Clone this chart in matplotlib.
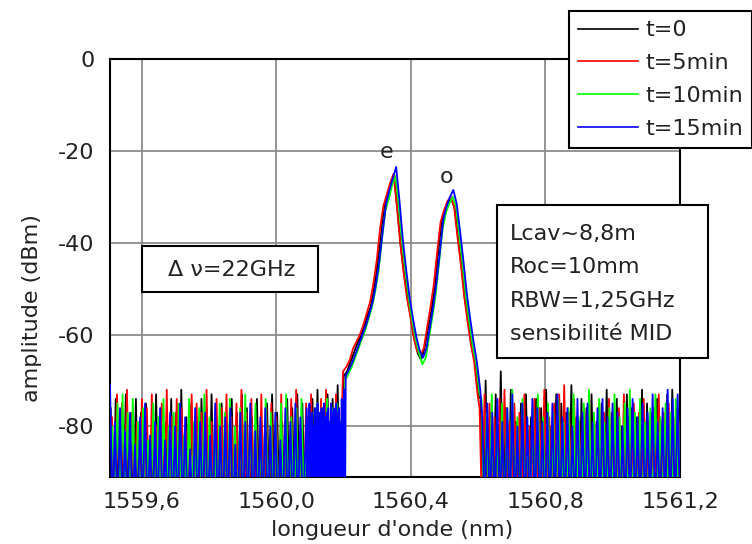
import numpy as np
import matplotlib
matplotlib.use("Agg")
import matplotlib.pyplot as plt
from matplotlib.patches import Rectangle
from matplotlib.lines import Line2D

# Spectres OSA : bruit (sommets des pics de bruit) + zone des deux pics (e, o)
labels = ["t=0", "t=5min", "t=10min", "t=15min"]
couleurs = ["#000000", "#ff0000", "#00ff00", "#0000ff"]

pas_bruit = [0.0150, 0.0148, 0.0152, 0.0149]
pas_pic = 0.01
plancher = -100

# debut (nm) de chaque zone, par trace
x_bruit_g = [1559.507, 1559.511, 1559.512, 1559.505]
x_pic = [1560.200, 1560.198, 1560.204, 1560.206]
x_bruit_d = [1560.607, 1560.604, 1560.610, 1560.612]

bruit_g_t0 = [-76, -74, -78, -73, -80, -74, -77, -75, -82, -73, -76, -79, -74, -77, -72, -78,
              -75, -80, -74, -76, -73, -79, -75, -81, -74, -77, -73, -76, -78, -74, -80, -75,
              -73, -77, -79, -74, -76, -73, -75, -78, -74, -72, -76, -73, -74, -71]
bruit_g_t5 = [-78, -73, -75, -72, -77, -79, -74, -76, -73, -80, -75, -72, -78, -74, -76, -81,
              -73, -75, -77, -72, -79, -74, -76, -73, -78, -75, -72, -77, -74, -80, -73, -76,
              -75, -78, -73, -77, -74, -72, -79, -75, -73, -76, -74, -72, -75, -73]
bruit_g_t10 = [-80, -75, -73, -77, -74, -79, -76, -83, -75, -78, -74, -80, -77, -75, -82, -74,
               -79, -76, -73, -78, -81, -75, -77, -74, -80, -76, -73, -78, -75, -82, -74, -77,
               -79, -75, -73, -78, -76, -74, -80, -77, -75, -79, -74, -76, -75, -77]
bruit_g_t15 = [-71, -79, -76, -81, -77, -84, -78, -75, -82, -79, -76, -83, -77, -80, -75, -78,
               -85, -76, -79, -77, -82, -75, -80, -78, -76, -84, -77, -79, -75, -81, -78, -76,
               -80, -77, -83, -76, -79, -75, -78]
# zone dense de la trace bleue juste avant le pic
x_dense_t15 = 1560.090
pas_dense = 0.004
bruit_dense_t15 = [-76, -79, -75, -78, -77, -80, -76, -78, -75, -79, -77, -76, -80, -75, -78,
                   -77, -76, -79, -75, -77, -76, -78, -75, -77, -76, -79, -74, -76, -72]

pic_t0 = [-69, -68, -66, -64, -62, -60.5, -58.5, -56, -54, -50, -45, -39, -32, -30, -27, -25.5,
          -33, -41, -47, -52, -56.5, -61, -64, -65.5, -63, -59, -55, -50, -43, -36, -33, -31.5,
          -30.5, -32.5, -39, -45, -52, -57, -62.5, -66, -73]
pic_t5 = [-68, -67, -65.5, -63, -61.5, -60, -58, -55.5, -53, -49, -44, -37, -32, -29.5, -27, -25,
          -32, -40, -46.5, -52, -56, -60.5, -63.5, -64.5, -63, -58.5, -54, -49, -42, -35.5, -33,
          -31, -30, -32, -38.5, -44.5, -51.5, -57, -62, -66, -73]
pic_t10 = [-70, -68.5, -67, -65, -63, -61, -59, -56.5, -54, -50.5, -46, -39, -33, -30.5, -27.5,
           -25.5, -32, -40, -46.5, -52.5, -57, -61, -64, -66.5, -65, -60.5, -56, -51, -44, -37,
           -33.5, -31.5, -30, -32, -38.5, -45, -52, -57.5, -62.5, -66.5, -73]
pic_t15 = [-69, -67.5, -66, -64, -62, -60, -58, -55.5, -53, -49, -44, -37.5, -31.5, -28.5, -26,
           -23.5, -31, -39.5, -46, -52, -56.5, -60.5, -63.5, -65, -63, -58.5, -54, -48.5, -42,
           -35, -32, -30, -28.5, -31.5, -37.5, -44, -51, -56.5, -61.5, -66, -72]

bruit_d_t0 = [-74, -70, -77, -73, -68, -76, -72, -79, -75, -73, -78, -74, -76, -72, -80, -73,
              -75, -77, -71, -78, -74, -76, -73, -79, -75, -72, -77, -74, -80, -73, -76, -78,
              -72, -75, -77, -74, -79, -73, -72, -76, -78]
bruit_d_t5 = [-76, -73, -75, -78, -74, -72, -79, -75, -77, -73, -80, -74, -76, -72, -78, -75,
              -73, -71, -77, -74, -79, -76, -73, -78, -75, -77, -74, -80, -76, -73, -78, -75,
              -77, -74, -79, -76, -73, -77, -75, -78, -79]
bruit_d_t10 = [-74, -77, -73, -79, -75, -76, -72, -78, -74, -80, -76, -73, -78, -75, -77, -74,
               -79, -76, -73, -78, -75, -72, -77, -74, -79, -76, -73, -78, -75, -72, -77, -74,
               -79, -76, -73, -78, -75, -77, -74, -76, -80]
bruit_d_t15 = [-78, -75, -77, -74, -79, -76, -73, -80, -75, -78, -74, -76, -79, -77, -75, -73,
               -78, -76, -80, -74, -77, -75, -79, -76, -74, -78, -75, -77, -80, -76, -74, -78,
               -75, -77, -73, -79, -76, -72, -74, -73, -77]

xticks = [1559.6, 1560.0, 1560.4, 1560.8, 1561.2]
xticklabels = ["1559,6", "1560,0", "1560,4", "1560,8", "1561,2"]
yticks = [0, -20, -40, -60, -80]
yticklabels = ["0", "-20", "-40", "-60", "-80"]
texte_params = ["Lcav~8,8m", "Roc=10mm", "RBW=1,25GHz", "sensibilité MID"]


def bruit(x0, pas, hauts):
    # chaque sommet de bruit retombe sous le plancher d'affichage
    x = x0 + pas * np.arange(len(hauts))
    xs = np.column_stack([x, x + pas / 2]).ravel()
    ys = np.column_stack([hauts, np.full(len(hauts), plancher)]).ravel()
    return xs, ys


W, H = 752, 544
fig = plt.figure(figsize=(W / 100, H / 100), dpi=100)
ax = fig.add_axes([110 / W, 1 - 477 / H, 570 / W, 418 / H])

def fx(px):
    return px / W

def fy(py):
    return 1 - py / H

traces = [
    (bruit_g_t0, None, pic_t0, bruit_d_t0),
    (bruit_g_t5, None, pic_t5, bruit_d_t5),
    (bruit_g_t10, None, pic_t10, bruit_d_t10),
    (bruit_g_t15, bruit_dense_t15, pic_t15, bruit_d_t15),
]

for i, (bg, dense, pic, bd) in enumerate(traces):
    xs, ys = [], []
    a, b = bruit(x_bruit_g[i], pas_bruit[i], bg)
    xs.append(a); ys.append(b)
    if dense is not None:
        a, b = bruit(x_dense_t15, pas_dense, dense)
        xs.append(a); ys.append(b)
    xs.append(x_pic[i] + pas_pic * np.arange(len(pic)))
    ys.append(np.array(pic))
    a, b = bruit(x_bruit_d[i], pas_bruit[i], bd)
    xs.append(a); ys.append(b)
    ax.plot(np.concatenate(xs), np.concatenate(ys), color=couleurs[i], lw=1.3, zorder=3)

ax.set_xlim(1559.505, 1561.2)
ax.set_ylim(-91, 0)
ax.set_xticks(xticks)
ax.set_xticklabels(xticklabels)
ax.set_yticks(yticks)
ax.set_yticklabels(yticklabels)
ax.tick_params(length=0, pad=11, labelsize=16, colors="#222222")
ax.grid(True, color="#8c8c8c", lw=1.3)
ax.set_axisbelow(True)
for s in ax.spines.values():
    s.set_linewidth(1.5)
    s.set_color("black")

ax.text(1560.326, -20.2, "e", fontsize=16, ha="center", va="center", color="#222222")
ax.text(1560.507, -25.6, "o", fontsize=16, ha="center", va="center", color="#222222")

fig.text(fx(392), fy(530), "longueur d'onde (nm)", fontsize=16, ha="center", va="center",
         color="#222222")
fig.text(fx(32), fy(308), "amplitude (dBm)", fontsize=16, ha="center", va="center",
         rotation=90, color="#222222")

# encadre delta nu
fig.add_artist(Rectangle((fx(142), fy(292)), (318 - 142) / W, (292 - 246) / H,
                         transform=fig.transFigure, fc="white", ec="black", lw=1.5, zorder=5))
fig.text(fx(232), fy(270), "Δ ν=22GHz", fontsize=16, ha="center", va="center",
         color="#222222", zorder=6)

# encadre parametres
fig.add_artist(Rectangle((fx(497), fy(358)), (708 - 497) / W, (358 - 205) / H,
                         transform=fig.transFigure, fc="white", ec="black", lw=1.5, zorder=5))
for k, t in enumerate(texte_params):
    fig.text(fx(510), fy(234 + 33.3 * k), t, fontsize=16, ha="left", va="center",
             color="#222222", zorder=6)

handles = [Line2D([], [], color=c, lw=1.2) for c in couleurs]
leg = fig.legend(handles, labels, loc="upper left", bbox_to_anchor=(fx(569), fy(11)),
                 fontsize=16, frameon=True, fancybox=False, edgecolor="black",
                 framealpha=1, borderpad=0.42, labelspacing=0.58, handlelength=2.7,
                 handletextpad=0.3, borderaxespad=0)
leg.get_frame().set_linewidth(1.5)
for t in leg.get_texts():
    t.set_color("#222222")

fig.savefig("out.png", dpi=100)
